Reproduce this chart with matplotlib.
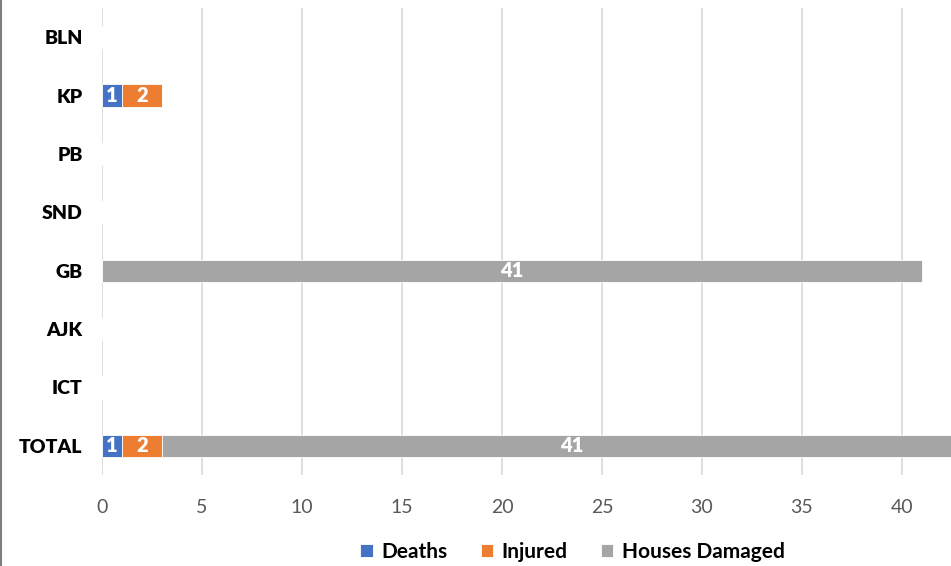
import numpy as np
from matplotlib import pyplot as plt
from matplotlib.lines import Line2D

regions = ['BLN', 'KP', 'PB', 'SND', 'GB', 'AJK', 'ICT', 'TOTAL']
deaths = [0, 1, 0, 0, 0, 0, 0, 1]
injured = [0, 2, 0, 0, 0, 0, 0, 2]
houses_damaged = [0, 0, 0, 0, 41, 0, 0, 41]
xticks = [0, 5, 10, 15, 20, 25, 30, 35, 40]

plt.rcParams['font.family'] = ['Lato', 'DejaVu Sans']

fig = plt.figure(figsize=(9.51, 5.66), dpi=100)
ax = fig.add_axes([102 / 951, 91 / 566, 1 - 102 / 951, 467 / 566])

y = np.arange(len(regions))
series = [
    ('Deaths', deaths, '#4472C4'),
    ('Injured', injured, '#ED7D31'),
    ('Houses Damaged', houses_damaged, '#A5A5A5'),
]
left = np.zeros(len(regions))
for name, vals, color in series:
    vals = np.array(vals, dtype=float)
    bars = ax.barh(y, vals, left=left, height=0.38, color=color, label=name,
                   edgecolor='white', linewidth=0.6, zorder=3)
    for b, v in zip(bars, vals):
        if v > 0:
            cx = b.get_x() + b.get_width() / 2
            if cx > 42.45:
                cx = (b.get_x() + 42.45) / 2
            ax.text(cx, b.get_y() + b.get_height() / 2, f'{int(v)}',
                    ha='center', va='center', color='white',
                    fontsize=14.5, fontweight='heavy', zorder=4)
    left += vals

ax.set_xlim(0, 42.45)
ax.set_ylim(len(regions) - 0.5, -0.5)
ax.set_xticks(xticks)
ax.set_yticks(y)
ax.set_yticklabels(regions, fontsize=14, fontweight='heavy', color='black')
ax.tick_params(axis='x', labelsize=14, labelcolor='#595959', length=0, pad=17)
ax.tick_params(axis='y', length=0, pad=14)
ax.grid(axis='x', color='#D9D9D9', linewidth=1.2, zorder=0)
for s in ax.spines.values():
    s.set_visible(False)

ax.legend(loc='upper center', bbox_to_anchor=(0.554, -0.103), ncol=3,
          frameon=False, prop={'weight': 'bold', 'size': 15},
          handlelength=0.6, handleheight=0.6, handletextpad=0.4,
          columnspacing=1.6)

fig.add_artist(Line2D([0.0015, 0.0015], [0, 1], color='#7F7F7F', linewidth=1.5,
                      transform=fig.transFigure))

fig.savefig('out.png', dpi=100)
